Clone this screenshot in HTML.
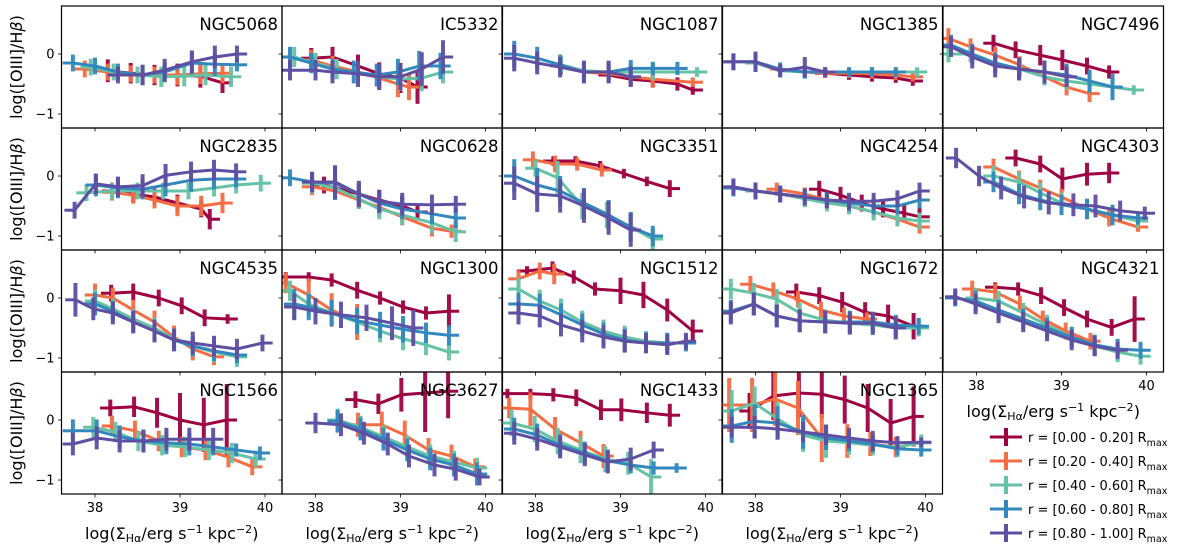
<!DOCTYPE html>
<html><head><meta charset="utf-8"><style>
html,body{margin:0;padding:0;background:#fff;}
svg{display:block;font-family:"DejaVu Sans","Liberation Sans",sans-serif;}
</style></head><body>
<svg id="chart" width="1200" height="556" viewBox="0 0 1200 556" xmlns="http://www.w3.org/2000/svg"></svg>
<script>
const galaxyNames=["NGC5068","IC5332","NGC1087","NGC1385","NGC7496","NGC2835","NGC0628","NGC3351","NGC4254","NGC4303","NGC4535","NGC1300","NGC1512","NGC1672","NGC4321","NGC1566","NGC3627","NGC1433","NGC1365"];
const seriesLabels=["r = [0.00 - 0.20] R","r = [0.20 - 0.40] R","r = [0.40 - 0.60] R","r = [0.60 - 0.80] R","r = [0.80 - 1.00] R"];
const xTicks=[38,39,40];
const yTicks=[0,-1];
const yTickLabels=["0","\u22121"];
// each galaxy: 5 series (r bins), points [x, y, yerr]
const d_NGC5068=[
 [[38.15,-0.28,0.19],[38.42,-0.32,0.17],[38.7,-0.35,0.17],[38.97,-0.35,0.19],[39.24,-0.37,0.19],[39.5,-0.48,0.17]],
 [[37.88,-0.25,0.14],[38.15,-0.3,0.14],[38.42,-0.33,0.14],[38.7,-0.35,0.14],[38.97,-0.35,0.17],[39.24,-0.33,0.17],[39.5,-0.32,0.17]],
 [[37.95,-0.22,0.14],[38.22,-0.3,0.14],[38.5,-0.35,0.14],[38.78,-0.38,0.17],[39.05,-0.37,0.17],[39.3,-0.35,0.17],[39.6,-0.38,0.17]],
 [[37.74,-0.15,0.14],[38.0,-0.2,0.14],[38.27,-0.3,0.14],[38.56,-0.35,0.17],[38.82,-0.3,0.17],[39.14,-0.15,0.19],[39.41,-0.17,0.19],[39.67,-0.18,0.11]],
 [[38.27,-0.35,0.14],[38.56,-0.35,0.17],[38.82,-0.27,0.19],[39.14,-0.13,0.19],[39.41,-0.05,0.19],[39.67,0.0,0.14]]];
const d_IC5332=[
 [[37.95,-0.07,0.17],[38.2,-0.05,0.17],[38.5,-0.2,0.19],[38.75,-0.33,0.19],[39.0,-0.4,0.25],[39.2,-0.55,0.28]],
 [[37.95,-0.1,0.17],[38.2,-0.2,0.17],[38.5,-0.3,0.17],[38.75,-0.4,0.19],[38.97,-0.5,0.22],[39.1,-0.55,0.22]],
 [[37.75,-0.05,0.17],[38.0,-0.15,0.17],[38.25,-0.25,0.17],[38.5,-0.32,0.19],[38.75,-0.38,0.19],[39.0,-0.42,0.19],[39.25,-0.4,0.22],[39.5,-0.3,0.19]],
 [[37.7,-0.05,0.17],[37.95,-0.15,0.17],[38.2,-0.25,0.17],[38.45,-0.3,0.19],[38.72,-0.35,0.19],[38.97,-0.3,0.22],[39.22,-0.2,0.25],[39.47,-0.2,0.22]],
 [[37.7,-0.27,0.17],[38.0,-0.27,0.17],[38.2,-0.3,0.19],[38.5,-0.33,0.22],[38.75,-0.38,0.22],[39.0,-0.38,0.22],[39.25,-0.25,0.28],[39.5,-0.05,0.28]]];
const d_NGC1087=[
 [[38.86,-0.35,0.11],[39.12,-0.42,0.11],[39.38,-0.45,0.11],[39.67,-0.5,0.11],[39.85,-0.6,0.08]],
 [[38.3,-0.2,0.14],[38.57,-0.3,0.14],[38.86,-0.33,0.14],[39.12,-0.38,0.14],[39.38,-0.42,0.14],[39.85,-0.47,0.08]],
 [[38.3,-0.18,0.14],[38.57,-0.28,0.14],[38.86,-0.3,0.14],[39.12,-0.3,0.14],[39.38,-0.3,0.14],[39.9,-0.3,0.08]],
 [[37.75,0.0,0.22],[38.02,-0.07,0.19],[38.29,-0.18,0.17],[38.57,-0.3,0.17],[38.86,-0.3,0.17],[39.12,-0.24,0.14],[39.38,-0.24,0.11],[39.67,-0.24,0.11]],
 [[37.75,-0.07,0.22],[38.02,-0.15,0.19],[38.29,-0.22,0.17],[38.57,-0.3,0.19],[38.86,-0.3,0.19],[39.12,-0.38,0.17]]];
const d_NGC1385=[
 [[38.82,-0.32,0.08],[39.1,-0.35,0.08],[39.37,-0.38,0.08],[39.65,-0.4,0.08],[39.85,-0.45,0.08]],
 [[38.29,-0.25,0.08],[38.58,-0.3,0.08],[38.82,-0.32,0.08],[39.1,-0.32,0.08],[39.37,-0.33,0.08],[39.65,-0.35,0.08],[39.85,-0.38,0.08]],
 [[38.0,-0.15,0.14],[38.29,-0.28,0.11],[38.58,-0.3,0.11],[38.82,-0.3,0.08],[39.1,-0.3,0.08],[39.37,-0.3,0.08],[39.65,-0.3,0.08],[39.9,-0.3,0.08]],
 [[37.74,-0.13,0.14],[38.0,-0.13,0.14],[38.29,-0.25,0.11],[38.58,-0.3,0.11],[38.82,-0.3,0.08],[39.1,-0.3,0.08],[39.37,-0.3,0.08],[39.65,-0.3,0.08]],
 [[37.74,-0.13,0.14],[38.0,-0.13,0.17],[38.29,-0.28,0.11],[38.58,-0.22,0.17],[38.82,-0.3,0.08]]];
const d_NGC7496=[
 [[38.2,0.18,0.14],[38.46,0.07,0.14],[38.75,-0.02,0.17],[39.01,-0.1,0.17],[39.3,-0.2,0.14],[39.56,-0.3,0.11]],
 [[37.67,0.26,0.17],[37.93,0.12,0.14],[38.22,-0.02,0.14],[38.51,-0.18,0.14],[38.8,-0.38,0.14],[39.06,-0.55,0.14],[39.33,-0.66,0.14]],
 [[37.67,0.0,0.14],[37.93,0.0,0.14],[38.22,-0.15,0.14],[38.51,-0.25,0.14],[38.8,-0.38,0.14],[39.06,-0.45,0.14],[39.33,-0.5,0.14],[39.6,-0.55,0.14],[39.85,-0.6,0.08]],
 [[37.7,0.15,0.17],[37.95,0.0,0.17],[38.22,-0.15,0.17],[38.5,-0.25,0.19],[38.8,-0.3,0.19],[39.06,-0.35,0.19],[39.33,-0.45,0.19],[39.6,-0.55,0.22]],
 [[37.7,0.12,0.17],[37.95,-0.05,0.19],[38.22,-0.2,0.19],[38.5,-0.25,0.19],[38.8,-0.3,0.19],[39.06,-0.38,0.17]]];
const d_NGC2835=[
 [[38.2,-0.25,0.14],[38.45,-0.3,0.14],[38.7,-0.35,0.14],[38.97,-0.45,0.14],[39.25,-0.55,0.14],[39.35,-0.72,0.17]],
 [[38.2,-0.27,0.14],[38.45,-0.32,0.14],[38.7,-0.4,0.14],[38.97,-0.5,0.17],[39.25,-0.5,0.17],[39.5,-0.45,0.17]],
 [[37.9,-0.28,0.14],[38.2,-0.25,0.14],[38.5,-0.25,0.14],[38.8,-0.25,0.14],[39.1,-0.25,0.14],[39.4,-0.2,0.14],[39.66,-0.15,0.14],[39.95,-0.12,0.14]],
 [[38.01,-0.15,0.19],[38.27,-0.2,0.17],[38.56,-0.22,0.17],[38.83,-0.15,0.19],[39.13,-0.07,0.19],[39.4,-0.05,0.17],[39.66,-0.05,0.14]],
 [[37.76,-0.57,0.14],[38.01,-0.13,0.17],[38.27,-0.18,0.17],[38.56,-0.16,0.19],[38.83,0.01,0.19],[39.13,0.07,0.17],[39.4,0.1,0.17],[39.66,0.07,0.14]]];
const d_NGC0628=[
 [[38.1,-0.15,0.14],[38.51,-0.3,0.17],[38.75,-0.4,0.17],[39.02,-0.5,0.17],[39.2,-0.6,0.14]],
 [[37.96,-0.18,0.14],[38.23,-0.25,0.14],[38.51,-0.4,0.14],[38.75,-0.52,0.14],[39.02,-0.68,0.14],[39.37,-0.87,0.14],[39.6,-0.92,0.11]],
 [[37.96,-0.12,0.17],[38.23,-0.2,0.17],[38.51,-0.38,0.17],[38.75,-0.55,0.17],[39.02,-0.65,0.17],[39.37,-0.78,0.17],[39.65,-0.93,0.17]],
 [[37.7,-0.03,0.14],[37.96,-0.1,0.17],[38.23,-0.12,0.28],[38.51,-0.3,0.19],[38.75,-0.45,0.17],[39.02,-0.55,0.17],[39.37,-0.63,0.17],[39.65,-0.7,0.17]],
 [[37.96,-0.1,0.17],[38.23,-0.1,0.28],[38.51,-0.3,0.22],[38.75,-0.42,0.19],[39.02,-0.47,0.19],[39.37,-0.48,0.17],[39.65,-0.47,0.14]]];
const d_NGC3351=[
 [[38.21,0.25,0.08],[38.47,0.25,0.08],[38.76,0.17,0.08],[39.04,0.04,0.08],[39.31,-0.09,0.08],[39.58,-0.21,0.14]],
 [[37.97,0.27,0.14],[38.23,0.2,0.14],[38.49,0.2,0.11],[38.78,0.1,0.11]],
 [[38.0,0.13,0.14],[38.26,-0.03,0.28],[38.55,-0.5,0.22],[38.84,-0.65,0.22],[39.12,-0.85,0.22],[39.38,-1.05,0.17]],
 [[37.75,0.0,0.28],[38.02,-0.15,0.28],[38.29,-0.25,0.25],[38.57,-0.45,0.25],[38.86,-0.65,0.25],[39.12,-0.85,0.25],[39.38,-1.0,0.17]],
 [[37.75,-0.12,0.28],[38.02,-0.3,0.3],[38.29,-0.33,0.28],[38.57,-0.5,0.28],[38.86,-0.7,0.28],[39.12,-0.9,0.28]]];
const d_NGC4254=[
 [[38.75,-0.22,0.14],[39.0,-0.32,0.14],[39.25,-0.45,0.14],[39.5,-0.55,0.14],[39.75,-0.62,0.14],[39.93,-0.68,0.17]],
 [[38.25,-0.22,0.11],[38.58,-0.3,0.11],[38.84,-0.4,0.11],[39.1,-0.5,0.11],[39.39,-0.6,0.11],[39.67,-0.72,0.11],[39.93,-0.85,0.11]],
 [[38.0,-0.25,0.14],[38.29,-0.3,0.14],[38.58,-0.38,0.14],[38.84,-0.45,0.14],[39.1,-0.5,0.14],[39.39,-0.6,0.14],[39.67,-0.7,0.14],[39.93,-0.75,0.14]],
 [[37.74,-0.2,0.14],[38.0,-0.25,0.14],[38.29,-0.3,0.14],[38.58,-0.35,0.14],[38.84,-0.4,0.14],[39.1,-0.45,0.14],[39.39,-0.5,0.14],[39.67,-0.5,0.14],[39.93,-0.4,0.14]],
 [[37.74,-0.18,0.14],[38.0,-0.25,0.14],[38.29,-0.3,0.14],[38.58,-0.35,0.14],[38.84,-0.4,0.14],[39.1,-0.42,0.14],[39.39,-0.42,0.14],[39.67,-0.38,0.14],[39.93,-0.25,0.14]]];
const d_NGC4303=[
 [[38.46,0.3,0.14],[38.75,0.2,0.14],[39.01,-0.05,0.19],[39.3,0.03,0.19],[39.56,0.05,0.17]],
 [[38.2,0.15,0.14],[38.5,-0.05,0.14],[38.75,-0.2,0.14],[39.0,-0.35,0.14],[39.3,-0.55,0.14],[39.56,-0.7,0.14],[39.9,-0.85,0.08]],
 [[38.2,0.0,0.17],[38.5,-0.1,0.17],[38.75,-0.28,0.17],[39.0,-0.45,0.17],[39.3,-0.55,0.17],[39.6,-0.65,0.17],[39.9,-0.75,0.11]],
 [[38.2,-0.1,0.17],[38.5,-0.3,0.17],[38.75,-0.4,0.17],[39.0,-0.48,0.17],[39.3,-0.55,0.17],[39.6,-0.65,0.17],[39.9,-0.7,0.11]],
 [[37.76,0.3,0.17],[38.03,0.0,0.17],[38.29,-0.2,0.19],[38.56,-0.35,0.19],[38.85,-0.45,0.19],[39.14,-0.48,0.19],[39.4,-0.5,0.19],[39.69,-0.58,0.17],[39.98,-0.62,0.11]]];
const d_NGC4535=[
 [[38.19,0.08,0.14],[38.45,0.1,0.14],[38.75,0.0,0.14],[39.02,-0.13,0.14],[39.29,-0.33,0.14],[39.56,-0.35,0.08]],
 [[38.0,0.05,0.19],[38.21,0.0,0.17],[38.45,-0.2,0.17],[38.7,-0.4,0.19],[38.93,-0.65,0.19],[39.15,-0.85,0.19],[39.4,-0.98,0.14]],
 [[38.0,-0.05,0.19],[38.21,-0.18,0.17],[38.45,-0.35,0.17],[38.7,-0.5,0.17],[38.93,-0.68,0.17],[39.15,-0.8,0.17],[39.4,-0.9,0.17],[39.67,-0.98,0.17]],
 [[38.0,-0.1,0.19],[38.21,-0.22,0.17],[38.45,-0.4,0.17],[38.7,-0.55,0.17],[38.93,-0.7,0.17],[39.15,-0.8,0.17],[39.4,-0.88,0.17],[39.67,-0.95,0.14]],
 [[37.77,-0.03,0.28],[37.98,-0.18,0.19],[38.21,-0.25,0.19],[38.45,-0.4,0.19],[38.7,-0.55,0.19],[38.93,-0.7,0.19],[39.15,-0.75,0.19],[39.4,-0.8,0.17],[39.67,-0.85,0.17],[39.97,-0.75,0.14]]];
const d_NGC1300=[
 [[37.65,0.35,0.08],[37.92,0.35,0.08],[38.19,0.3,0.11],[38.49,0.13,0.14],[38.76,0.0,0.11],[39.03,-0.15,0.11],[39.3,-0.25,0.11],[39.57,-0.22,0.28]],
 [[37.65,0.25,0.17],[37.92,0.05,0.28],[38.19,-0.2,0.28],[38.49,-0.4,0.3]],
 [[37.7,0.12,0.17],[37.92,-0.1,0.19],[38.19,-0.25,0.19],[38.49,-0.4,0.19],[38.76,-0.55,0.19],[39.03,-0.68,0.19],[39.3,-0.78,0.17],[39.57,-0.9,0.14]],
 [[37.75,-0.1,0.25],[37.92,-0.15,0.22],[38.19,-0.25,0.22],[38.49,-0.38,0.22],[38.76,-0.45,0.22],[39.03,-0.52,0.22],[39.3,-0.58,0.17],[39.57,-0.62,0.17]],
 [[37.75,-0.15,0.22],[38.0,-0.22,0.22],[38.3,-0.28,0.22],[38.6,-0.33,0.22],[38.9,-0.42,0.28],[39.15,-0.5,0.3]]];
const d_NGC1512=[
 [[37.9,0.45,0.08],[38.2,0.5,0.11],[38.45,0.35,0.11],[38.7,0.15,0.11],[39.0,0.12,0.22],[39.27,0.05,0.22],[39.55,-0.2,0.19],[39.85,-0.55,0.19]],
 [[37.8,0.32,0.14],[38.05,0.45,0.14],[38.22,0.4,0.17]],
 [[37.8,0.15,0.19],[38.05,-0.05,0.19],[38.3,-0.2,0.19],[38.55,-0.4,0.19],[38.8,-0.55,0.19],[39.05,-0.65,0.19],[39.3,-0.72,0.17],[39.55,-0.75,0.17]],
 [[37.8,-0.1,0.19],[38.05,-0.12,0.19],[38.3,-0.28,0.19],[38.55,-0.45,0.19],[38.8,-0.6,0.19],[39.05,-0.7,0.19],[39.3,-0.75,0.17],[39.55,-0.75,0.17],[39.77,-0.75,0.14]],
 [[37.8,-0.25,0.19],[38.05,-0.3,0.19],[38.3,-0.45,0.19],[38.55,-0.55,0.19],[38.8,-0.65,0.19],[39.05,-0.72,0.19],[39.3,-0.75,0.17],[39.55,-0.78,0.17],[39.77,-0.72,0.14]]];
const d_NGC1672=[
 [[38.48,0.1,0.14],[38.75,0.04,0.14],[39.02,-0.07,0.17],[39.29,-0.24,0.17],[39.56,-0.3,0.19],[39.86,-0.47,0.22]],
 [[37.94,0.23,0.14],[38.21,0.12,0.14],[38.5,-0.02,0.14],[38.77,-0.2,0.14],[39.04,-0.3,0.14],[39.31,-0.35,0.11]],
 [[37.71,0.15,0.17],[37.98,0.08,0.17],[38.25,-0.02,0.17],[38.52,-0.25,0.17],[38.82,-0.37,0.17],[39.11,-0.42,0.17],[39.38,-0.45,0.17],[39.65,-0.5,0.17],[39.92,-0.5,0.14]],
 [[37.71,-0.22,0.19],[37.98,-0.1,0.19],[38.25,-0.3,0.19],[38.52,-0.38,0.19],[38.82,-0.4,0.19],[39.11,-0.4,0.19],[39.38,-0.4,0.17],[39.65,-0.45,0.17],[39.92,-0.47,0.14]],
 [[37.71,-0.25,0.19],[37.98,-0.1,0.19],[38.25,-0.3,0.19],[38.52,-0.38,0.19],[38.82,-0.4,0.19],[39.11,-0.42,0.19],[39.38,-0.42,0.19],[39.65,-0.5,0.19]]];
const d_NGC4321=[
 [[38.22,0.18,0.08],[38.49,0.15,0.11],[38.76,0.04,0.14],[39.03,-0.16,0.14],[39.3,-0.35,0.14],[39.59,-0.49,0.14],[39.86,-0.35,0.38]],
 [[37.95,0.15,0.14],[38.22,0.1,0.14],[38.51,-0.1,0.14],[38.78,-0.35,0.14],[39.05,-0.55,0.14],[39.34,-0.72,0.14]],
 [[37.99,0.0,0.17],[38.26,-0.05,0.17],[38.55,-0.25,0.17],[38.83,-0.45,0.17],[39.12,-0.65,0.17],[39.39,-0.8,0.17],[39.66,-0.9,0.17],[39.93,-0.97,0.14]],
 [[37.75,0.0,0.14],[37.99,-0.05,0.17],[38.26,-0.2,0.17],[38.55,-0.35,0.17],[38.83,-0.5,0.17],[39.12,-0.65,0.17],[39.39,-0.78,0.17],[39.66,-0.85,0.17],[39.93,-0.87,0.14]],
 [[37.75,0.02,0.14],[37.99,-0.1,0.17],[38.26,-0.25,0.17],[38.55,-0.4,0.17],[38.83,-0.55,0.17],[39.12,-0.7,0.17],[39.39,-0.8,0.17],[39.66,-0.87,0.14]]];
const d_NGC1566=[
 [[38.18,0.2,0.14],[38.46,0.22,0.17],[38.73,0.12,0.25],[39.0,0.0,0.45],[39.28,-0.08,0.45],[39.55,0.0,0.6]],
 [[38.2,-0.1,0.17],[38.47,-0.18,0.17],[38.75,-0.35,0.17],[39.02,-0.45,0.17],[39.3,-0.5,0.17],[39.57,-0.62,0.17],[39.85,-0.78,0.14]],
 [[37.98,-0.12,0.17],[38.24,-0.2,0.17],[38.51,-0.35,0.17],[38.79,-0.42,0.17],[39.06,-0.45,0.17],[39.34,-0.5,0.17],[39.61,-0.55,0.17],[39.89,-0.65,0.14]],
 [[37.74,-0.18,0.19],[38.02,-0.18,0.19],[38.29,-0.28,0.19],[38.57,-0.35,0.19],[38.84,-0.38,0.19],[39.11,-0.4,0.19],[39.39,-0.45,0.14],[39.66,-0.5,0.11],[39.94,-0.55,0.11]],
 [[37.74,-0.4,0.19],[38.02,-0.3,0.19],[38.29,-0.35,0.19],[38.57,-0.35,0.19],[38.84,-0.32,0.19],[39.11,-0.32,0.19],[39.39,-0.32,0.19]]];
const d_NGC3627=[
 [[38.47,0.34,0.14],[38.74,0.27,0.17],[39.01,0.42,0.28],[39.29,0.45,0.65],[39.56,0.48,0.45]],
 [[38.5,-0.08,0.2],[38.78,-0.08,0.22],[39.05,-0.25,0.24],[39.33,-0.5,0.2],[39.6,-0.6,0.19],[39.88,-0.78,0.14]],
 [[38.26,0.0,0.19],[38.53,-0.12,0.19],[38.8,-0.28,0.19],[39.08,-0.45,0.19],[39.35,-0.6,0.19],[39.63,-0.7,0.19],[39.9,-0.8,0.17]],
 [[38.26,-0.02,0.19],[38.53,-0.15,0.19],[38.8,-0.32,0.19],[39.08,-0.5,0.19],[39.35,-0.65,0.19],[39.63,-0.75,0.19],[39.9,-0.9,0.19]],
 [[38.0,-0.05,0.17],[38.3,-0.08,0.19],[38.57,-0.22,0.19],[38.85,-0.4,0.19],[39.1,-0.6,0.19],[39.4,-0.75,0.19],[39.65,-0.82,0.19],[39.93,-0.95,0.14]]];
const d_NGC1433=[
 [[37.67,0.44,0.08],[37.94,0.44,0.08],[38.21,0.42,0.11],[38.48,0.37,0.14],[38.77,0.17,0.17],[39.01,0.17,0.19],[39.31,0.12,0.17],[39.58,0.08,0.19]],
 [[37.69,0.2,0.17],[37.94,0.18,0.28],[38.23,-0.15,0.2],[38.53,-0.38,0.2],[38.8,-0.6,0.2]],
 [[37.72,-0.05,0.22],[37.99,-0.15,0.22],[38.26,-0.35,0.22],[38.53,-0.5,0.22],[38.82,-0.65,0.22],[39.09,-0.72,0.19],[39.36,-0.95,0.3]],
 [[37.75,-0.15,0.19],[38.02,-0.25,0.19],[38.29,-0.42,0.19],[38.58,-0.55,0.19],[38.85,-0.68,0.19],[39.12,-0.75,0.14],[39.39,-0.8,0.11],[39.66,-0.8,0.08]],
 [[37.75,-0.22,0.19],[38.02,-0.32,0.19],[38.29,-0.45,0.19],[38.58,-0.58,0.19],[38.85,-0.7,0.19],[39.12,-0.65,0.19],[39.39,-0.5,0.14]]];
const d_NGC1365=[
 [[37.93,0.15,0.3],[38.21,0.4,0.4],[38.51,0.45,0.4],[38.78,0.43,0.4],[39.05,0.34,0.4],[39.32,0.2,0.4],[39.59,-0.05,0.4],[39.86,0.06,0.5]],
 [[37.69,0.25,0.45],[37.96,0.25,0.45],[38.23,0.35,0.45],[38.5,0.2,0.45],[38.78,-0.3,0.4],[39.08,-0.35,0.28],[39.35,-0.4,0.2],[39.65,-0.45,0.17]],
 [[37.72,0.15,0.35],[37.99,0.28,0.28],[38.26,0.02,0.28],[38.56,-0.25,0.28],[38.83,-0.35,0.28],[39.1,-0.38,0.2],[39.38,-0.42,0.17],[39.67,-0.45,0.17],[39.95,-0.38,0.14]],
 [[37.72,-0.1,0.28],[37.99,-0.02,0.28],[38.26,-0.05,0.28],[38.56,-0.2,0.28],[38.83,-0.3,0.2],[39.1,-0.35,0.17],[39.38,-0.4,0.14],[39.67,-0.48,0.11],[39.95,-0.5,0.11]],
 [[37.72,-0.12,0.17],[37.99,-0.12,0.19],[38.26,-0.15,0.17],[38.56,-0.2,0.17],[38.83,-0.25,0.17],[39.1,-0.3,0.17],[39.38,-0.35,0.17],[39.67,-0.38,0.11],[39.95,-0.37,0.08]]];
const panelData=[d_NGC5068,d_IC5332,d_NGC1087,d_NGC1385,d_NGC7496,d_NGC2835,d_NGC0628,d_NGC3351,d_NGC4254,d_NGC4303,d_NGC4535,d_NGC1300,d_NGC1512,d_NGC1672,d_NGC4321,d_NGC1566,d_NGC3627,d_NGC1433,d_NGC1365];

const colors=["#9e0142","#f46d43","#66c2a5","#3288bd","#5e4fa2"];
const NS="http://www.w3.org/2000/svg";
const svg=document.getElementById("chart");
const colLeft=[61.5,282,502,722,943], PW=220.5, rowTop=[6,128,250,372], PH=122;
const XMIN=37.606,XMAX=40.2,YMAX=0.8,YMIN=-1.233;
function mk(tag,attrs,parent){const e=document.createElementNS(NS,tag);for(const k in attrs)e.setAttribute(k,attrs[k]);(parent||svg).appendChild(e);return e;}
function xs(c,v){return colLeft[c]+(v-XMIN)/(XMAX-XMIN)*PW;}
function ys(r,v){return rowTop[r]+(YMAX-v)/(YMAX-YMIN)*PH;}

panelData.forEach((series,i)=>{
  const c=i%5,r=Math.floor(i/5);
  const g=mk("g",{});
  
  
  const cid="clip"+i;
  const cp=mk("clipPath",{id:cid},g);mk("rect",{x:colLeft[c],y:rowTop[r],width:PW,height:PH},cp);
  const plot=mk("g",{"clip-path":"url(#"+cid+")"},g);
  series.forEach((pts,s)=>{
    const sg=mk("g",{},plot);
    
    
    pts.forEach(p=>{
      const l=mk("line",{x1:xs(c,p[0]),x2:xs(c,p[0]),y1:ys(r,p[1]+p[2]),y2:ys(r,p[1]-p[2]),stroke:colors[s],"stroke-width":4,"stroke-opacity":0.95},sg);
      
      
    });
    const f=pts[0],la=pts[pts.length-1];
    mk("line",{x1:xs(c,f[0]-0.12),x2:xs(c,f[0]),y1:ys(r,f[1]),y2:ys(r,f[1]),stroke:colors[s],"stroke-width":3},sg);
    mk("line",{x1:xs(c,la[0]),x2:xs(c,la[0]+0.12),y1:ys(r,la[1]),y2:ys(r,la[1]),stroke:colors[s],"stroke-width":3},sg);
    const pl=mk("polyline",{points:pts.map(p=>xs(c,p[0])+","+ys(r,p[1])).join(" "),fill:"none",stroke:colors[s],"stroke-width":3,"stroke-linejoin":"round"},sg);
    
    
  });
  const fr=mk("rect",{x:colLeft[c],y:rowTop[r],width:PW,height:PH,fill:"none",stroke:"#000","stroke-width":1.2},g);
  
  
  const t=mk("text",{x:colLeft[c]+PW-4,y:rowTop[r]+24,"text-anchor":"end","font-size":16.5},g);
  t.textContent=galaxyNames[i];
  
  
  yTicks.forEach((v,k)=>{
    mk("line",{x1:colLeft[c]-3.5,x2:colLeft[c],y1:ys(r,v),y2:ys(r,v),stroke:"#000","stroke-width":0.8},g);
    if(c===0){const tl=mk("text",{x:colLeft[c]-7,y:ys(r,v)+4.5,"text-anchor":"end","font-size":13},g);tl.textContent=yTickLabels[k];
      
      }
  });
  xTicks.forEach(v=>{
    mk("line",{x1:xs(c,v),x2:xs(c,v),y1:rowTop[r]+PH,y2:rowTop[r]+PH+3.5,stroke:"#000","stroke-width":0.8},g);
    const bottom=(r===3)||(r===2&&c===4);
    if(bottom){const tl=mk("text",{x:xs(c,v),y:rowTop[r]+PH+18,"text-anchor":"middle","font-size":13},g);tl.textContent=String(v);
      
      }
  });
  if((r===3)||(r===2&&c===4)){
    const xl=mk("text",{x:colLeft[c]+PW/2,y:rowTop[r]+PH+45,"text-anchor":"middle","font-size":16},g);
    xl.innerHTML='log(Σ<tspan font-size="11" dy="3">Hα</tspan><tspan dy="-3">/erg s</tspan><tspan font-size="11" dy="-6">−1</tspan><tspan dy="6"> kpc</tspan><tspan font-size="11" dy="-6">−2</tspan><tspan dy="6">)</tspan>';
    
    
  }
  if(c===0){
    const cy=rowTop[r]+PH/2;
    const yl=mk("text",{x:22,y:cy,"text-anchor":"middle","font-size":16,transform:"rotate(-90 22 "+cy+")"},g);
    yl.innerHTML='log([OIII]/H<tspan font-style="italic">β</tspan>)';
    
    
  }
});
// legend
const lg=mk("g",{});


seriesLabels.forEach((lab,s)=>{
  const y=437+s*24;
  const e=mk("g",{},lg);
  
  
  mk("line",{x1:990,x2:1022,y1:y,y2:y,stroke:colors[s],"stroke-width":3},e);
  mk("line",{x1:1006,x2:1006,y1:y-9,y2:y+9,stroke:colors[s],"stroke-width":4},e);
  const t=mk("text",{x:1028,y:y+5,"font-size":13},e);
  t.innerHTML=lab+'<tspan font-size="9.5" dy="4">max</tspan>';
});
</script>
</body></html>
